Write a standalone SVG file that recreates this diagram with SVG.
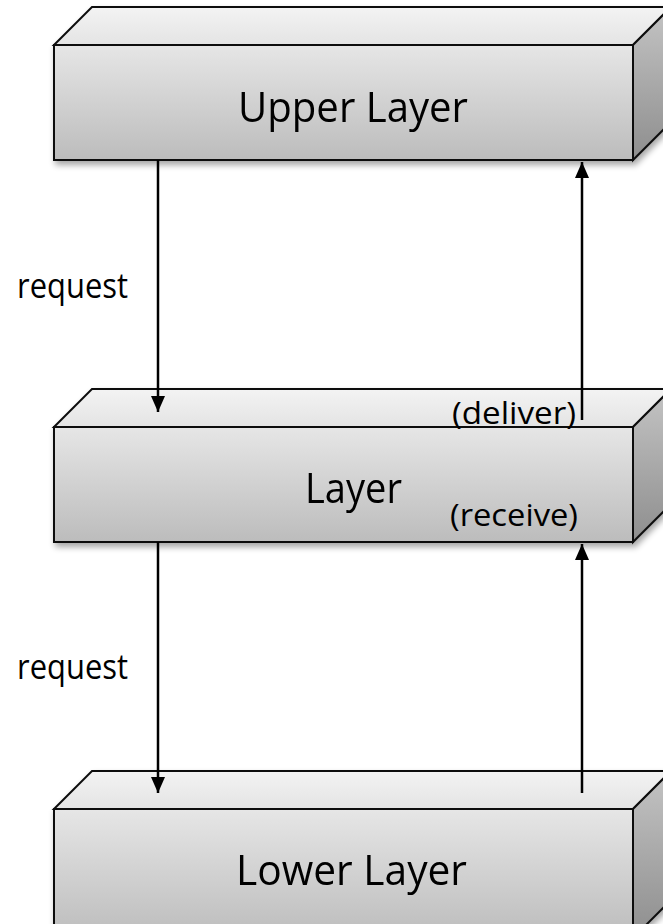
<svg xmlns="http://www.w3.org/2000/svg" width="663" height="924" viewBox="0 0 663 924">
<defs>
<linearGradient id="gFront" x1="0" y1="0" x2="0" y2="1">
<stop offset="0" stop-color="#e6e6e6"/>
<stop offset="1" stop-color="#bcbcbc"/>
</linearGradient>
<linearGradient id="gTop" x1="0" y1="0" x2="0" y2="1">
<stop offset="0" stop-color="#f3f3f3"/>
<stop offset="1" stop-color="#e4e4e4"/>
</linearGradient>
<linearGradient id="gSide" x1="0" y1="0" x2="0" y2="1">
<stop offset="0" stop-color="#c4c4c4"/>
<stop offset="1" stop-color="#8e8e8e"/>
</linearGradient>
<filter id="shadow" x="-10%" y="-10%" width="130%" height="140%">
<feGaussianBlur in="SourceAlpha" stdDeviation="3"/>
<feOffset dx="2" dy="4" result="b"/>
<feComponentTransfer><feFuncA type="linear" slope="0.35"/></feComponentTransfer>
<feMerge><feMergeNode/><feMergeNode in="SourceGraphic"/></feMerge>
</filter>
<marker id="arr" viewBox="0 0 16 14" refX="16" refY="7" markerWidth="16" markerHeight="14" markerUnits="userSpaceOnUse" orient="auto">
<path d="M0,0 L16,7 L0,14 z" fill="#000"/>
</marker>
</defs>
<style>
.front{fill:url(#gFront);stroke:#111;stroke-width:2;stroke-linejoin:miter}
.top{fill:url(#gTop);stroke:#111;stroke-width:2;stroke-linejoin:miter}
.side{fill:url(#gSide);stroke:#111;stroke-width:2;stroke-linejoin:miter}
.lbl{font-family:"Open Sans",sans-serif;fill:#000}
.big{font-size:42px}
.small{font-size:31px}
.req{font-size:34px}
.conn{stroke:#000;stroke-width:2.5;fill:none}
</style>

<g id="upper-layer" filter="url(#shadow)">
<polygon class="top" points="54,45 92,7 671,7 633,45"/>
<polygon class="side" points="633,45 671,7 671,122 633,160"/>
<rect class="front" x="54" y="45" width="579" height="115"/>
<text class="lbl big" x="238" y="122" textLength="230" lengthAdjust="spacingAndGlyphs">Upper Layer</text>
</g>

<g id="layer" filter="url(#shadow)">
<polygon class="top" points="54,427 92,389 671,389 633,427"/>
<polygon class="side" points="633,427 671,389 671,504 633,542"/>
<rect class="front" x="54" y="427" width="579" height="115"/>
<text class="lbl big" x="305" y="503" textLength="97" lengthAdjust="spacingAndGlyphs">Layer</text>
</g>

<g id="lower-layer" filter="url(#shadow)">
<polygon class="top" points="54,809 92,771 671,771 633,809"/>
<polygon class="side" points="633,809 671,771 671,900 633,938"/>
<rect class="front" x="54" y="809" width="579" height="130"/>
<text class="lbl big" x="236" y="885" textLength="231" lengthAdjust="spacingAndGlyphs">Lower Layer</text>
</g>

<g id="connectors">
<line class="conn" x1="158" y1="160" x2="158" y2="412" marker-end="url(#arr)"/>
<line class="conn" x1="582" y1="420" x2="582" y2="162" marker-end="url(#arr)"/>
<line class="conn" x1="158" y1="542" x2="158" y2="793" marker-end="url(#arr)"/>
<line class="conn" x1="582" y1="793" x2="582" y2="544" marker-end="url(#arr)"/>
</g>

<g id="labels">
<text class="lbl req" x="17" y="298" textLength="111" lengthAdjust="spacingAndGlyphs">request</text>
<text class="lbl req" x="17" y="679" textLength="111" lengthAdjust="spacingAndGlyphs">request</text>
<text class="lbl small" x="452" y="424" textLength="124" lengthAdjust="spacingAndGlyphs">(deliver)</text>
<text class="lbl small" x="450" y="526" textLength="128" lengthAdjust="spacingAndGlyphs">(receive)</text>
</g>
</svg>
